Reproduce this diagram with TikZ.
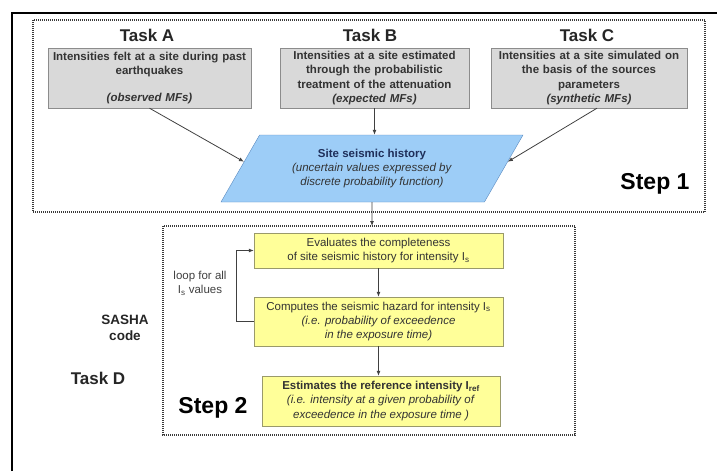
\documentclass[tikz,border=0pt]{standalone}
\usepackage{fontspec}
\setmainfont{Liberation Sans}
\usetikzlibrary{calc, shapes.geometric, arrows.meta}

\definecolor{taskgray}{HTML}{D9D9D9}
\definecolor{boxline}{HTML}{8C8C8C}
\definecolor{histblue}{HTML}{9DCDF7}
\definecolor{histline}{HTML}{5A8AC0}
\definecolor{histtext}{HTML}{1F2F5A}
\definecolor{codeyellow}{HTML}{FFFF99}
\definecolor{codeline}{HTML}{9A9A6A}
\definecolor{textgray}{HTML}{333333}
\definecolor{framegray}{HTML}{3A3A3A}
\definecolor{arrowgray}{HTML}{404040}

\begin{document}
\begin{tikzpicture}[
    x = 1pt, y = -1pt,
    every node/.style = {align=center, text=textgray,
      font=\fontsize{11.5}{14.3}\selectfont},
    taskbox/.style = {draw=boxline, fill=taskgray, minimum height=60pt,
      inner sep=2pt, font=\bfseries\fontsize{11.5}{14.3}\selectfont},
    histbox/.style = {trapezium, trapezium left angle=50,
      trapezium right angle=130, trapezium stretches body,
      draw=histline, fill=histblue, minimum width=302pt, minimum height=67pt},
    codebox/.style = {draw=codeline, fill=codeyellow, inner sep=2pt},
    framebox/.style = {draw=framegray, line width=1.4pt, dash pattern=on 1pt off 1pt},
    arr/.style = {draw=arrowgray, line width=0.8pt, -{Latex[length=5pt, width=4pt]}},
    tasktitle/.style = {text=black!85, font=\bfseries\fontsize{17}{20}\selectfont},
    steplabel/.style = {text=black, font=\bfseries\fontsize{23}{26}\selectfont}
  ]
  \useasboundingbox (0,0) rectangle (717,471);

  % outer frame and dotted step frames
  \draw[line width=2pt] (12,471) -- (12,13) -- (717,13);
  \draw[framebox] (33,20) rectangle (705,212);
  \draw[framebox] (163,226) rectangle (575,435);

  % Step 1: tasks A, B, C
  \node[tasktitle] (TA) at (147,35) {Task A};
  \node[tasktitle] (TB) at (370,35) {Task B};
  \node[tasktitle] (TC) at (587,35) {Task C};

  \node[taskbox, minimum width=203pt, text width=199pt] (A) at (149.5,78)
    {Intensities felt at a site during past\\ earthquakes\\[13pt]
     \textit{(observed MFs)}};
  \node[taskbox, minimum width=189pt, text width=185pt] (B) at (374.5,78)
    {Intensities at a site estimated\\ through the probabilistic\\
     treatment of the attenuation\\ \textit{(expected MFs)}};
  \node[taskbox, minimum width=196pt, text width=192pt] (C) at (589,78)
    {Intensities at a site simulated on\\ the basis of the sources\\
     parameters\\ \textit{(synthetic MFs)}};

  \node[histbox] (hist) at (372,168.5)
    {{\color{histtext}\bfseries Site seismic history}\\
     \textit{(uncertain values expressed by}\\
     \textit{discrete probability function)}};

  \node[steplabel] (S1) at (655,184) {Step 1};

  \draw[arr] (A.south) -- ($(hist.top left corner)!0.4!(hist.bottom left corner)$);
  \draw[arr] (B.south) -- (B.south |- hist.north);
  \draw[arr] ($(C.south)+(8,0)$) -- ($(hist.top right corner)!0.4!(hist.bottom right corner)$);

  \coordinate (s2top) at (372,226);
  \draw[arr] (hist.south) -- (s2top);

  % Step 2: SASHA code (task D)
  \node[codebox, minimum width=249pt, minimum height=35pt] (E1) at (378.5,250.5)
    {Evaluates the completeness\\ of site seismic history for intensity I\textsubscript{s}};
  \node[codebox, minimum width=249pt, minimum height=49pt] (E2) at (378.5,321.5)
    {Computes the seismic hazard for intensity I\textsubscript{s}\\
     \textit{(i.e. probability of exceedence}\\ \textit{in the exposure time)}};
  \node[codebox, minimum width=238pt, minimum height=50pt] (E3) at (381,401)
    {\textbf{Estimates the reference intensity I\textsubscript{ref}}\\
     \textit{(i.e. intensity at a given probability of}\\
     \textit{exceedence in the exposure time )}};

  \draw[arr] (E1.south) -- (E2.north);
  \draw[arr] (E2.south) -- (E2.south |- E3.north);
  \draw[arr] (E2.west) -- ++(-17,0) |- (E1.west);

  \node[text=black!75] (loop) at (200,283) {loop for all\\ I\textsubscript{s} values};
  \node[text=black!85, font=\bfseries\fontsize{13.5}{16.5}\selectfont] (sasha) at (125,328)
    {SASHA\\ code};
  \node[tasktitle] (TD) at (98,378) {Task D};
  \node[steplabel] (S2) at (213,408) {Step 2};
\end{tikzpicture}
\end{document}
